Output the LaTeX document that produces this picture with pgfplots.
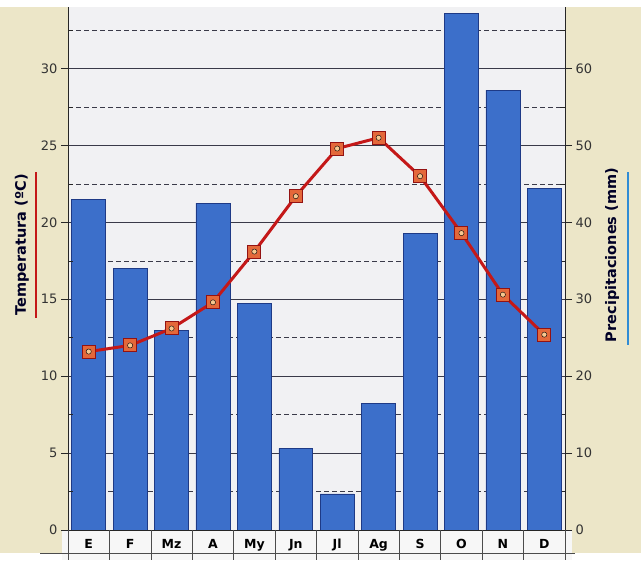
\documentclass[border=0pt]{standalone}
\usepackage{fontspec}
\setmainfont{DejaVu Sans}
\usepackage{pgfplots}
\usepackage{pgfplotstable}
\pgfplotsset{compat=1.18}
\definecolor{beige}{HTML}{ECE6C8}
\definecolor{plotbg}{HTML}{F1F1F3}
\definecolor{barfill}{HTML}{3C6FCA}
\definecolor{bardraw}{HTML}{1E3A86}
\definecolor{tline}{HTML}{C41818}
\definecolor{tmark}{HTML}{E4683A}
\definecolor{tcenter}{HTML}{F8C890}
\definecolor{gridc}{HTML}{3A3A48}

\pgfplotstableread{
m  prec  temp
0  43.0  11.6
1  34.0  12.0
2  26.0  13.1
3  42.5  14.8
4  29.5  18.1
5  10.6  21.7
6   4.7  24.8
7  16.5  25.5
8  38.6  23.0
9  67.2  19.3
10 57.2  15.3
11 44.4  12.7
}\climate

\begin{document}
\begin{tikzpicture}[x=1pt,y=1pt]
% background
\fill[white] (0,0) rectangle (641,560);
\fill[beige] (0,7) rectangle (641,553);
\fill[white!94!gray] (62,0) rectangle (572,30);
\fill[plotbg] (68,30) rectangle (565,553);

% precipitation axis (right) with bars and grid
\begin{axis}[
  at={(68pt,30pt)}, anchor=south west, scale only axis,
  width=497pt, height=523pt,
  xmin=-0.5, xmax=11.5, ymin=0, ymax=68,
  axis y line*=right, axis x line*=bottom,
  axis line style={-, black!85, line width=0.7pt},
  xtick={0,...,11},
  xticklabels={E,F,Mz,A,My,Jn,Jl,Ag,S,O,N,D},
  xticklabel style={font=\bfseries\fontsize{12.5}{13}\selectfont, text=black, yshift=1.5pt},
  x tick style={draw=none},
  ytick={0,10,...,60}, minor ytick={5,15,...,65},
  /pgf/number format/assume math mode=true,
  yticklabel style={font=\fontsize{13}{14}\selectfont, text=black!80},
  ymajorgrids, yminorgrids,
  major grid style={gridc, line width=0.5pt},
  minor grid style={gridc, line width=0.5pt, dash pattern=on 5pt off 3pt},
  tick align=outside, major tick length=7pt, minor tick length=5pt,
  minor tick style={xshift=-5pt},
  tick style={black!85, line width=0.6pt},
]
\addplot[ybar, bar width=0.82, fill=barfill, draw=bardraw, line width=0.6pt] table[x=m, y=prec] {\climate};
\end{axis}

% temperature axis (left) with line
\begin{axis}[
  at={(68pt,30pt)}, anchor=south west, scale only axis,
  width=497pt, height=523pt,
  xmin=-0.5, xmax=11.5, ymin=0, ymax=34,
  axis y line*=left, axis x line=none,
  axis line style={-, black!85, line width=0.7pt},
  xtick=\empty,
  ytick={0,5,...,30}, minor ytick={2.5,7.5,...,32.5},
  /pgf/number format/assume math mode=true,
  yticklabel style={font=\fontsize{13}{14}\selectfont, text=black!80},
  tick align=outside, major tick length=7pt, minor tick length=5pt,
  minor tick style={xshift=5pt},
  tick style={black!85, line width=0.6pt},
  clip=false,
]
\addplot[tline, line width=3pt, mark=square*, mark size=6.5pt,
  mark options={draw=tline!75!black, fill=tmark, line width=1pt, solid}]
  table[x=m, y=temp] {\climate};
\addplot[only marks, mark=*, mark size=2.6pt, mark options={fill=tcenter, draw=none}]
  table[x=m, y=temp] {\climate};
\end{axis}

% label row cells
\foreach \k in {0,...,12} \draw[black!70, line width=0.6pt] ({68+41.4167*\k},30) -- ({68+41.4167*\k},0);
\draw[black!70, line width=0.6pt] (40,7) -- (575,7);

% axis titles
\node[rotate=90, font=\bfseries\fontsize{14.5}{15}\selectfont, text=black!85!blue] at (22,315) {Temperatura (ºC)};
\draw[tline, line width=1.4pt] (36,242) -- (36,388);
\node[rotate=90, font=\bfseries\fontsize{14.5}{15}\selectfont, text=black!85!blue] at (612,305) {Precipitaciones (mm)};
\draw[barfill!80!cyan, line width=1.4pt] (628,215) -- (628,388);
\end{tikzpicture}
\end{document}
